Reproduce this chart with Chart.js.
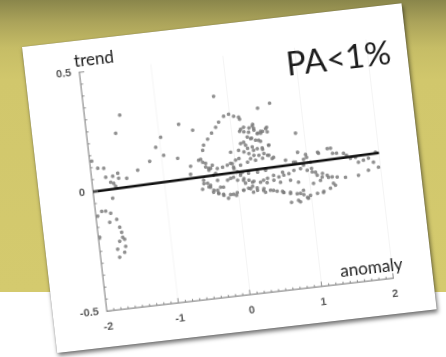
<!DOCTYPE html>
<html>
<head>
<meta charset="utf-8">
<script src="https://cdn.jsdelivr.net/npm/chart.js@4/dist/chart.umd.min.js"></script>
<style>
  html, body { margin: 0; padding: 0; }
  body {
    width: 446px; height: 357px; overflow: hidden; position: relative;
    background: linear-gradient(to bottom, #8a864b 0px, #aba35a 22px, #c6bd66 48px, #d1c76c 80px, #d4ca6e 292px, #ffffff 292px);
  }
  #card {
    position: absolute; left: 21.7px; top: 46.7px; width: 382px; height: 308px;
    background: #ffffff; transform-origin: 0 0; transform: rotate(-6.56deg);
    box-shadow: 1px 3px 4px rgba(0,0,0,0.55), 0 0 1px rgba(0,0,0,0.35);
  }
  #card canvas { position: absolute; left: 0; top: 0; filter: blur(0.25px); }
  .lbl {
    position: absolute; font-family: Lato, "Open Sans", sans-serif; color: #1c1c1c;
    white-space: nowrap; line-height: 1; transform: translate(-50%, -50%);
  }
</style>
</head>
<body>
<div id="card">
  <canvas id="c" width="382" height="308"></canvas>
  <div class="lbl" style="left:70px; top:19px; font-size:17px;">trend</div>
  <div class="lbl" style="left:322px; top:258px; font-size:17px;">anomaly</div>
  <div class="lbl" style="left:313px; top:46px; font-size:33px;">PA&lt;1%</div>
</div>
<script>
// Axis ranges and tick labels
const xTickValues = [-2, -1, 0, 1, 2];
const yTickValues = [-0.5, 0, 0.5];
const xMinorStep = 0.1;
const yMinorStep = 0.05;

// Fitted trend line (two end points)
const trendLineX = [-2, 2];
const trendLineY = [0.0, 0.025];

// Scatter: temperature anomaly vs. trend
const anomaly = [
  -1.511, -1.595, -0.714, -0.530, -0.982, -1.066, -0.969, -0.781, -1.171, -1.969, -1.898, -1.815,
  -1.350, -1.802, -1.704, -1.630, -1.625, -1.741, -1.701, -1.679, -1.514, -0.615, -0.628, -0.495,
  -0.424, -0.403, -0.338, -0.274, -0.209, -0.160, -0.082, -0.010, 0.056, 0.134,
  -0.188, 0.399, 0.572, 0.882,
  -1.739, -1.911, -1.856, -1.974, -1.790, -1.717, -1.818, -1.688, -1.669, -1.663, -1.639, -1.711,
  -1.636, -1.751, -1.659, -1.736, -1.979,
  0.176, 0.305, 0.312, 0.359, 0.237, 0.431, 0.493, 0.269, 0.362, 0.153, 0.492, 0.115,
  -0.042, 0.071, 0.198, 0.277, 0.403, 0.462, 0.542, 0.880, 0.702, 0.809, 0.951, 1.155, 1.043,
  0.123, 0.401,
  -0.466, -0.404, -0.343, -0.282, -0.176, -0.060, -0.025, 0.075, 0.176, 0.289, 0.389, 0.091,
  0.172, 0.298, 0.411, -0.083, 0.010, 0.115, 0.207, 0.323, 0.426, 0.513, 0.642, -0.194, -0.373,
  1.340, 1.167, 1.415, 1.549, 1.670, 1.775, 1.953, 1.910, 1.971, 1.828, 1.683, 1.501,
  1.360, 1.511, 1.599, 1.703, 1.847, 1.096, 1.190, 1.267, 1.152, 1.051, 1.326, 1.277,
  1.174, 1.090, 0.991, 0.902, 0.958,
  0.996, 0.836, 0.942, 1.047, 0.368, 0.739, 0.846, 0.718, 0.489, 0.624, 0.352, 0.211,
  0.077, -0.028, -0.143,
  -0.458, -0.370, -0.281, -0.205, -0.067, 0.149, 0.269, 0.376, 0.612, 0.720, 0.856, 0.946,
  0.818, 0.092, 0.213, -0.128, -0.041, 0.062, 0.598,
  -0.443, -0.370, -0.313, -0.408, -0.339, -0.272, -0.486, -0.235, -0.266,
  0.132, 0.173, 0.249, 0.298, 0.314, 0.354, 0.404, 0.477, 0.495, 0.211, 0.255, 0.321,
  0.388, 0.109, 0.175, 0.264, 0.331, 0.400, 0.496, 0.142, 0.208, 0.274, 0.343, 0.414,
  0.481, 0.521, 0.223, 0.063, 0.986, 1.294,
  -0.409, -0.369, -0.315, -0.251, -0.109, -0.037, 0.014, -0.022, 0.019, 0.059, 0.100, 0.166,
  0.233, 0.414, 0.510, 0.584, 0.655, 0.727, 0.801, 0.895, 0.984, 1.051, 1.114, 1.180,
  1.252, 1.318, 1.387,
  -0.459, -0.395, -0.332, -0.268, -0.202, -0.109, -0.014, 0.081, 0.176, 0.268, 0.359, 0.448,
  0.538, 0.628, 0.718, 0.810, 0.900, 1.181, 1.350, 0.843
];
const trend = [
  0.304, 0.231, 0.238, 0.207, 0.193, 0.154, 0.117, 0.098, 0.099, 0.127, 0.095, 0.092,
  0.068, 0.054, 0.055, 0.065, 0.044, 0.031, 0.025, 0.012, 0.040, 0.059, 0.026, 0.080,
  0.119, 0.140, 0.163, 0.186, 0.208, 0.228, 0.250, 0.256, 0.245, 0.230,
  0.337, 0.267, 0.282, 0.146,
  -0.036, -0.085, -0.086, -0.103, -0.097, -0.125, -0.134, -0.159, -0.181, -0.202, -0.211, -0.217,
  -0.241, -0.249, -0.265, -0.283, -0.191,
  0.195, 0.203, 0.186, 0.164, 0.172, 0.169, 0.184, 0.146, 0.134, 0.133, 0.109, 0.180,
  0.098, 0.102, 0.106, 0.095, 0.095, 0.068, 0.057, 0.066, 0.039, 0.027, 0.034, 0.057, 0.019,
  0.239, 0.162,
  0.083, 0.064, 0.041, 0.018, 0.040, 0.052, 0.035, 0.040, 0.049, 0.053, 0.058, 0.010,
  0.003, 0.003, 0.007, -0.010, -0.021, -0.037, -0.053, -0.040, -0.027, -0.018, -0.009, -0.043, -0.037,
  0.067, 0.052, 0.044, 0.030, 0.018, 0.002, 0.029, -0.011, -0.034, -0.042, -0.058, -0.060,
  0.045, 0.040, 0.016, -0.004, 0.008, -0.025, -0.033, -0.052, -0.061, -0.070, -0.079, -0.098,
  -0.112, -0.113, -0.118, -0.094, -0.129,
  0.041, 0.026, 0.010, -0.007, -0.033, -0.046, -0.058, -0.138, -0.080, -0.093, -0.075, -0.078,
  -0.065, -0.083, -0.091,
  -0.005, -0.029, -0.053, -0.072, -0.077, -0.059, -0.072, -0.084, -0.088, -0.096, -0.105, -0.125,
  -0.133, -0.024, -0.036, -0.016, -0.007, 0.006, -0.050,
  0.070, 0.042, 0.011, -0.019, -0.059, -0.066, -0.042, -0.042, -0.012,
  0.188, 0.176, 0.190, 0.196, 0.178, 0.162, 0.170, 0.179, 0.165, 0.153, 0.145, 0.136,
  0.129, 0.129, 0.120, 0.110, 0.100, 0.101, 0.109, 0.093, 0.084, 0.074, 0.072, 0.077,
  0.067, 0.052, 0.062, 0.068, 0.053, 0.067,
  0.049, 0.034, 0.053, 0.037, 0.046, 0.050, 0.063, 0.029, 0.014, -0.002, -0.017, -0.026,
  -0.033, -0.045, -0.038, -0.027, -0.022, -0.018, -0.007, -0.003, -0.013, -0.022, -0.038, -0.048,
  -0.043, -0.052, -0.055,
  -0.019, -0.035, -0.051, -0.067, -0.077, -0.077, -0.072, -0.065, -0.062, -0.062, -0.068, -0.078,
  -0.085, -0.094, -0.101, -0.105, -0.112, -0.108, -0.088, -0.140
];

const axisColor = '#8c8c8c';
const tickFont = { family: 'Liberation Sans', size: 11, weight: 'bold' };

// Inward major and minor tick marks along both axes
const axisTicks = {
  id: 'axisTicks',
  afterDraw(chart) {
    const { ctx, chartArea: a, scales: { x, y } } = chart;
    ctx.save();
    ctx.strokeStyle = axisColor;
    ctx.lineWidth = 1;
    ctx.beginPath();
    const nx = Math.round((x.max - x.min) / xMinorStep);
    for (let i = 0; i <= nx; i++) {
      const v = x.min + i * xMinorStep;
      const px = x.getPixelForValue(v);
      const major = xTickValues.some(t => Math.abs(t - v) < 1e-6);
      ctx.moveTo(px, a.bottom);
      ctx.lineTo(px, a.bottom - (major ? 5 : 2.5));
    }
    const ny = Math.round((y.max - y.min) / yMinorStep);
    for (let i = 0; i <= ny; i++) {
      const v = y.min + i * yMinorStep;
      const py = y.getPixelForValue(v);
      const major = yTickValues.some(t => Math.abs(t - v) < 1e-6);
      ctx.moveTo(a.left, py);
      ctx.lineTo(a.left + (major ? 5 : 2.5), py);
    }
    ctx.stroke();
    ctx.restore();
  }
};

new Chart(document.getElementById('c'), {
  data: {
    datasets: [
      {
        type: 'line',
        data: trendLineX.map((x, i) => ({ x, y: trendLineY[i] })),
        borderColor: '#111111',
        borderWidth: 2.6,
        pointRadius: 0,
        fill: false,
        tension: 0
      },
      {
        type: 'scatter',
        data: anomaly.map((x, i) => ({ x, y: trend[i] })),
        pointRadius: 1.8,
        pointBackgroundColor: 'rgba(125,125,125,0.85)',
        pointBorderWidth: 0
      }
    ]
  },
  options: {
    responsive: false,
    animation: false,
    devicePixelRatio: 2,
    layout: { padding: { left: 0, top: 31.7, right: 39.5, bottom: 0 } },
    plugins: { legend: { display: false }, tooltip: { enabled: false } },
    scales: {
      x: {
        type: 'linear', position: 'bottom', min: -2, max: 2,
        afterBuildTicks: s => { s.ticks = xTickValues.map(v => ({ value: v })); },
        afterFit: s => { s.height = 35.8; },
        grid: {
          drawTicks: false,
          color: c => (c.tick && c.tick.value === -2) ? 'rgba(0,0,0,0)' : 'rgba(0,0,0,0.045)'
        },
        border: { color: axisColor, width: 1.2 },
        ticks: { padding: 9, color: '#5a5a5a', font: tickFont, callback: v => String(v) }
      },
      y: {
        type: 'linear', position: 'left', min: -0.5, max: 0.5,
        afterBuildTicks: s => { s.ticks = yTickValues.map(v => ({ value: v })); },
        afterFit: s => { s.width = 54; },
        grid: { drawTicks: false, color: 'rgba(0,0,0,0)' },
        border: { color: axisColor, width: 1.2 },
        ticks: { padding: 8, color: '#5a5a5a', font: tickFont, callback: v => String(v) }
      }
    }
  },
  plugins: [axisTicks]
});
</script>
</body>
</html>
